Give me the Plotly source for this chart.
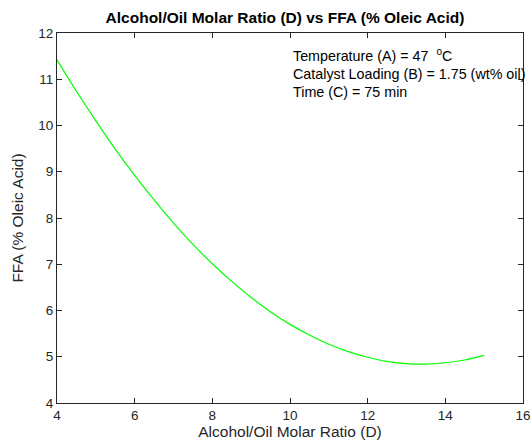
import plotly.graph_objects as go

ratio = [4, 4.5, 5, 5.5, 6, 6.5, 7, 7.5, 8, 8.5, 9, 9.5, 10, 10.5, 11, 11.5,
         12, 12.5, 13, 13.5, 14, 14.5, 15]
ffa = [11.42, 10.74, 10.10, 9.49, 8.92, 8.39, 7.89, 7.43, 7.01, 6.63, 6.28, 5.97,
       5.70, 5.47, 5.27, 5.11, 4.99, 4.90, 4.85, 4.84, 4.87, 4.93, 5.03]
x_ticks = [4, 6, 8, 10, 12, 14, 16]
y_ticks = [4, 5, 6, 7, 8, 9, 10, 11, 12]
notes = ["Temperature (A) = 47 &nbsp;<sup>o</sup>C",
         "Catalyst Loading (B) = 1.75 (wt% oil)",
         "Time (C) = 75 min"]

W, H = 531, 445
L, R, T, B = 57, 8, 33, 42
ph = H - T - B
FONT = "Liberation Sans, Arial"

fig = go.Figure()
fig.add_trace(go.Scatter(x=ratio, y=ffa, mode="lines", line_shape="spline",
                         line=dict(color="#00FF00", width=1.2), showlegend=False))

axis_common = dict(showgrid=False, zeroline=False, showline=True, linecolor="#262626",
                   linewidth=1, ticks="inside", ticklen=5, tickcolor="#262626",
                   mirror="ticks", automargin=False,
                   tickfont=dict(family=FONT, size=13.5, color="#262626"))

fig.update_xaxes(range=[4, 16], tickvals=x_ticks, **axis_common,
                 title=dict(text="Alcohol/Oil Molar Ratio (D)", standoff=3,
                            font=dict(family=FONT, size=15.5, color="#262626")))
fig.update_yaxes(range=[4, 12], tickvals=y_ticks, **axis_common,
                 title=dict(text="FFA (% Oleic Acid)", standoff=10,
                            font=dict(family=FONT, size=15.5, color="#262626")))

for i, t in enumerate(notes):
    ypix = 55 + i * 18.5
    fig.add_annotation(text=t, xref="paper", yref="paper", x=(291 - L) / (W - L - R),
                       y=(H - B - ypix) / ph, xanchor="left", yanchor="middle",
                       showarrow=False,
                       font=dict(family=FONT, size=14.3, color="black"))

fig.update_layout(
    width=W, height=H, margin=dict(l=L, r=R, t=T, b=B),
    paper_bgcolor="white", plot_bgcolor="white",
    title=dict(text="<b>Alcohol/Oil Molar Ratio (D) vs FFA (% Oleic Acid)</b>",
               x=285 / W, xanchor="center", y=1 - 18 / H, yanchor="middle",
               font=dict(family=FONT, size=15.5, color="black")),
)

fig.write_html("out.html")
